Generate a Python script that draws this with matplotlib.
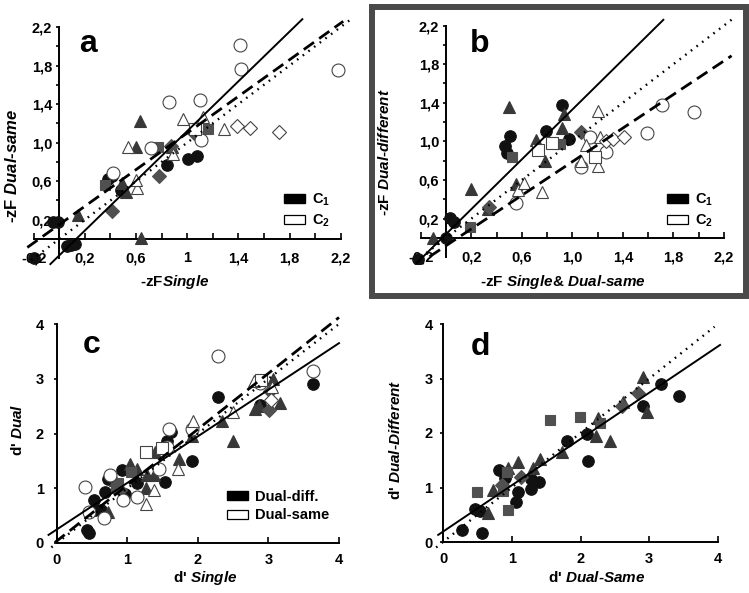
import numpy as np
import matplotlib
matplotlib.use("Agg")
import matplotlib.pyplot as plt
from matplotlib.patches import Patch, Rectangle

plt.rcParams['font.family'] = ['Liberation Sans', 'DejaVu Sans']
plt.rcParams['font.weight'] = 'bold'
plt.rcParams['mathtext.fontset'] = 'custom'
plt.rcParams['mathtext.rm'] = 'Liberation Sans:bold'
plt.rcParams['mathtext.it'] = 'Liberation Sans:italic:bold'
plt.rcParams['mathtext.bf'] = 'Liberation Sans:bold'
plt.rcParams['mathtext.default'] = 'rm'

W, H = 749, 593

# ---- panel a : -zF single vs dual-same ----
a_circ_fill_x = [-0.2, -0.05, -0.01, 0.06, 0.09, 0.12, 0.38, 0.41, 0.48, 0.84, 1.01, 1.08]
a_circ_fill_y = [-0.2, 0.18, 0.18, -0.07, -0.06, -0.05, 0.62, 0.65, 0.51, 0.77, 0.83, 0.86]
a_tri_fill_x = [0.15, 0.49, 0.52, 0.60, 0.63, 0.64, 0.88]
a_tri_fill_y = [0.25, 0.58, 0.49, 0.95, 1.22, 0.01, 0.95]
a_sq_fill_x = [0.36, 0.77, 1.16]
a_sq_fill_y = [0.56, 0.95, 1.14]
a_dia_fill_x = [0.41, 0.78, 1.05, 0.87]
a_dia_fill_y = [0.29, 0.65, 1.10, 0.96]
a_circ_open_x = [0.42, 0.72, 0.86, 1.10, 1.11, 1.41, 1.42, 2.18]
a_circ_open_y = [0.68, 0.94, 1.42, 1.44, 1.03, 2.01, 1.76, 1.75]
a_tri_open_x = [0.54, 0.61, 0.60, 0.89, 0.97, 1.12, 1.29]
a_tri_open_y = [0.95, 0.53, 0.61, 0.88, 1.25, 1.27, 1.14]
a_sq_open_x = [1.06]
a_sq_open_y = [1.14]
a_dia_open_x = [1.39, 1.49, 1.72]
a_dia_open_y = [1.17, 1.15, 1.11]
# fitted lines: (slope, intercept, x from, x to)
a_solid = (1.29, -0.17, -0.07, 1.90)
a_dashed = (0.95, 0.15, -0.25, 2.22)
a_dotted = (1.0, 0.0, -0.22, 2.27)

# ---- panel b : -zF single & dual-same vs dual-different ----
b_circ_fill_x = [-0.22, 0.0, 0.03, 0.06, 0.47, 0.48, 0.51, 0.79, 0.92, 0.97]
b_circ_fill_y = [-0.22, 0.0, 0.21, 0.17, 0.95, 0.88, 1.06, 1.11, 1.38, 1.03]
b_tri_fill_x = [-0.10, 0.20, 0.33, 0.50, 0.55, 0.71, 0.78, 0.92, 0.93]
b_tri_fill_y = [0.0, 0.51, 0.30, 1.36, 0.56, 1.01, 0.80, 1.14, 1.28]
b_sq_fill_x = [0.19, 0.52, 0.90]
b_sq_fill_y = [0.11, 0.84, 0.97]
b_dia_fill_x = [0.34, 1.07]
b_dia_fill_y = [0.32, 1.10]
b_circ_open_x = [0.55, 1.07, 1.14, 1.27, 1.59, 1.71, 1.96]
b_circ_open_y = [0.36, 0.74, 1.05, 0.89, 1.09, 1.38, 1.30]
b_tri_open_x = [0.57, 0.62, 0.76, 1.07, 1.11, 1.20, 1.20, 1.22]
b_tri_open_y = [0.50, 0.57, 0.48, 0.80, 0.96, 1.32, 0.75, 1.05]
b_sq_open_x = [0.73, 0.84, 1.18]
b_sq_open_y = [0.91, 0.98, 0.84]
b_dia_open_x = [1.27, 1.32, 1.41]
b_dia_open_y = [1.00, 1.03, 1.05]
b_solid = (1.29, 0.04, -0.23, 1.72)
b_dashed = (0.87, -0.08, -0.13, 2.26)
b_dotted = (1.0, 0.0, -0.20, 2.27)

# ---- panel c : d' single vs dual ----
c_circ_fill_x = [0.42, 0.46, 0.52, 0.54, 0.63, 0.68, 0.73, 0.92, 0.96, 1.13, 1.53, 1.56, 1.61, 1.92, 2.29, 2.88, 3.63]
c_circ_fill_y = [0.24, 0.18, 0.78, 0.60, 0.60, 0.94, 1.16, 1.34, 0.89, 1.10, 1.12, 1.86, 2.02, 1.50, 2.67, 2.52, 2.90]
c_tri_fill_x = [0.73, 0.82, 1.03, 1.13, 1.26, 1.28, 1.37, 1.39, 1.73, 1.92, 2.34, 2.50, 2.81, 2.87, 3.07, 3.16]
c_tri_fill_y = [0.57, 1.15, 1.45, 1.36, 1.00, 1.24, 1.24, 1.67, 1.53, 1.95, 2.23, 1.86, 2.45, 2.50, 3.00, 2.55]
c_sq_fill_x = [0.84, 0.87, 1.05]
c_sq_fill_y = [1.00, 1.10, 1.30]
c_dia_fill_x = [0.90, 3.01, 3.02]
c_dia_fill_y = [0.97, 2.43, 2.77]
c_circ_open_x = [0.40, 0.46, 0.66, 0.75, 0.94, 1.13, 1.44, 1.56, 1.59, 1.92, 2.29, 2.88, 3.63]
c_circ_open_y = [1.03, 0.57, 0.45, 1.25, 0.78, 0.84, 1.36, 1.76, 2.09, 2.09, 3.42, 2.92, 3.14]
c_tri_open_x = [1.26, 1.37, 1.72, 1.93, 2.50, 2.80, 3.05]
c_tri_open_y = [0.72, 0.97, 1.36, 2.22, 2.40, 2.95, 2.85]
c_sq_open_x = [1.26, 1.49, 2.90]
c_sq_open_y = [1.66, 1.73, 2.97]
c_dia_open_x = [3.03]
c_dia_open_y = [2.62]
c_solid = (0.85, 0.25, -0.12, 4.0)
c_dashed = (1.02, 0.04, -0.03, 4.0)
c_dotted = (1.0, 0.0, -0.08, 4.0)

# ---- panel d : d' dual-same vs dual-different ----
d_circ_fill_x = [0.28, 0.47, 0.54, 0.56, 0.81, 0.90, 1.06, 1.09, 1.28, 1.28, 1.39, 1.80, 2.09, 2.11, 2.91, 3.17, 3.43]
d_circ_fill_y = [0.22, 0.60, 0.56, 0.17, 1.32, 1.17, 0.74, 0.92, 0.97, 1.16, 1.10, 1.85, 1.99, 1.49, 2.50, 2.89, 2.67]
d_tri_fill_x = [0.65, 0.73, 0.95, 1.09, 1.31, 1.41, 1.73, 2.22, 2.25, 2.43, 2.62, 2.91, 2.96]
d_tri_fill_y = [0.53, 0.95, 1.35, 1.47, 1.35, 1.53, 1.65, 1.95, 2.27, 1.85, 2.56, 3.03, 2.39]
d_sq_fill_x = [0.49, 0.87, 0.93, 0.94, 1.56, 1.99, 2.29]
d_sq_fill_y = [0.91, 0.94, 1.28, 0.58, 2.24, 2.29, 2.18]
d_dia_fill_x = [0.86, 1.13, 2.60, 2.84]
d_dia_fill_y = [1.05, 1.20, 2.50, 2.73]
d_solid = (0.85, 0.19, -0.07, 4.03)
d_dotted = (1.0, 0.0, -0.10, 3.95)

zf_ticks = [-0.2, 0.2, 0.6, 1.0, 1.4, 1.8, 2.2]
zf_minor = [0.0, 0.4, 0.8, 1.2, 1.6, 2.0]
a_xticklabels = ["-0,2", "0,2", "0,6", "1", "1,4", "1,8", "2,2"]
b_xticklabels = ["-0,2", "0,2", "0,6", "1,0", "1,4", "1,8", "2,2"]
zf_yticks = [0.2, 0.6, 1.0, 1.4, 1.8, 2.2]
zf_yticklabels = ["0,2", "0,6", "1,0", "1,4", "1,8", "2,2"]
d_ticks = [0, 1, 2, 3, 4]
d_ticklabels = ["0", "1", "2", "3", "4"]

FILL_DARK = '#383838'
FILL_MID = '#505050'
OPEN_EDGE = '#444444'


def fx(px):
    return px / W


def fy(py):
    return 1 - py / H


def place(xcal, ycal, xlim, ylim):
    # xcal/ycal: ((value0, pixel0), (value1, pixel1))
    (xv0, xp0), (xv1, xp1) = xcal
    (yv0, yp0), (yv1, yp1) = ycal
    sx = (xp1 - xp0) / (xv1 - xv0)
    sy = (yp1 - yp0) / (yv1 - yv0)
    left = xp0 + (xlim[0] - xv0) * sx
    right = xp0 + (xlim[1] - xv0) * sx
    bot = yp0 + (ylim[0] - yv0) * sy
    top = yp0 + (ylim[1] - yv0) * sy
    return [left / W, 1 - bot / H, (right - left) / W, (bot - top) / H]


def scatter_group(ax, x, y, marker, face, edge, ms, mew=0.8):
    ax.plot(x, y, linestyle='none', marker=marker, ms=ms, mfc=face, mec=edge, mew=mew, zorder=3)


def fit_line(ax, spec, style):
    k, b, x0, x1 = spec
    xs = np.array([x0, x1])
    if style == 'solid':
        ax.plot(xs, k * xs + b, color='black', lw=1.4, zorder=4, clip_on=False)
    elif style == 'dashed':
        ax.plot(xs, k * xs + b, color='black', lw=2.0, dashes=(4.5, 2.3), zorder=4, clip_on=False)
    else:
        ax.plot(xs, k * xs + b, color='black', lw=1.7, dashes=(0.7, 2.3), zorder=4, clip_on=False)


def style_axes(ax, lo, hi, xpad, ypad):
    for s in ['top', 'right']:
        ax.spines[s].set_visible(False)
    ax.spines['left'].set_position(('data', 0))
    ax.spines['bottom'].set_position(('data', 0))
    ax.spines['left'].set_bounds(lo, hi)
    ax.spines['bottom'].set_bounds(lo, hi)
    ax.spines['left'].set_linewidth(1.4)
    ax.spines['bottom'].set_linewidth(1.4)
    ax.tick_params(axis='x', which='both', direction='in', length=4, width=1.2, pad=xpad, labelsize=10.5)
    ax.tick_params(axis='y', which='both', direction='out', length=2.5, width=1.2, pad=ypad, labelsize=10.5)
    for t in ax.get_xticklabels() + ax.get_yticklabels():
        t.set_fontweight('bold')


def all_groups(ax, pre):
    g = globals()
    scatter_group(ax, g[pre + '_circ_fill_x'], g[pre + '_circ_fill_y'], 'o', '#111111', '#111111', 8.3)
    scatter_group(ax, g[pre + '_tri_fill_x'], g[pre + '_tri_fill_y'], '^', FILL_DARK, FILL_DARK, 8.8)
    scatter_group(ax, g[pre + '_sq_fill_x'], g[pre + '_sq_fill_y'], 's', FILL_MID, FILL_MID, 7.8)
    scatter_group(ax, g[pre + '_dia_fill_x'], g[pre + '_dia_fill_y'], 'D', FILL_MID, FILL_MID, 6.8)
    if pre + '_circ_open_x' in g:
        scatter_group(ax, g[pre + '_circ_open_x'], g[pre + '_circ_open_y'], 'o', 'white', OPEN_EDGE, 9.3)
        scatter_group(ax, g[pre + '_tri_open_x'], g[pre + '_tri_open_y'], '^', 'white', OPEN_EDGE, 9.3)
        scatter_group(ax, g[pre + '_sq_open_x'], g[pre + '_sq_open_y'], 's', 'white', OPEN_EDGE, 8.3)
        scatter_group(ax, g[pre + '_dia_open_x'], g[pre + '_dia_open_y'], 'D', 'white', OPEN_EDGE, 7)


def legend(ax, labels, px, py):
    handles = [Patch(facecolor='black', edgecolor='black'),
               Patch(facecolor='white', edgecolor='black', linewidth=0.9)]
    ax.legend(handles, labels, loc='upper left', bbox_to_anchor=(fx(px), fy(py)),
              bbox_transform=ax.figure.transFigure, frameon=False, borderpad=0,
              borderaxespad=0, handlelength=1.45, handleheight=0.6, handletextpad=0.45,
              labelspacing=0.3, prop=dict(weight='bold', size=10.5))


fig = plt.figure(figsize=(W / 100, H / 100), dpi=100)

# panel a
zlim = (-0.27, 2.27)
ax_a = fig.add_axes(place(((0, 59.3), (2.2, 340.7)), ((0, 239), (2.2, 27)), zlim, zlim))
ax_a.set_xlim(zlim)
ax_a.set_ylim(zlim)
ax_a.set_xticks(zf_ticks)
ax_a.set_xticklabels(a_xticklabels)
ax_a.set_xticks(zf_minor, minor=True)
ax_a.set_yticks(zf_yticks)
ax_a.set_yticklabels(zf_yticklabels)
ax_a.set_yticks([0.0, 0.4, 0.8, 1.2, 1.6, 2.0], minor=True)
style_axes(ax_a, -0.2, 2.2, 9, 2.5)
all_groups(ax_a, 'a')
fit_line(ax_a, a_solid, 'solid')
fit_line(ax_a, a_dashed, 'dashed')
fit_line(ax_a, a_dotted, 'dotted')
legend(ax_a, ["C$_1$", "C$_2$"], 284, 192)

# panel b
ax_b = fig.add_axes(place(((0, 446), (2.2, 724)), ((0, 238), (2.2, 25.5)), zlim, zlim))
ax_b.set_xlim(zlim)
ax_b.set_ylim(zlim)
ax_b.set_xticks(zf_ticks)
ax_b.set_xticklabels(b_xticklabels)
ax_b.set_xticks(zf_minor, minor=True)
ax_b.set_yticks(zf_yticks)
ax_b.set_yticklabels(zf_yticklabels)
ax_b.set_yticks([0.0, 0.4, 0.8, 1.2, 1.6, 2.0], minor=True)
style_axes(ax_b, -0.2, 2.2, 9, 2.5)
all_groups(ax_b, 'b')
fit_line(ax_b, b_solid, 'solid')
fit_line(ax_b, b_dashed, 'dashed')
fit_line(ax_b, b_dotted, 'dotted')
legend(ax_b, ["C$_1$", "C$_2$"], 667, 192)

# panel c
dlim_x = (-0.15, 4.1)
dlim_y = (-0.15, 4.15)
ax_c = fig.add_axes(place(((0, 57), (4, 339)), ((0, 543), (4, 324)), dlim_x, dlim_y))
ax_c.set_xlim(dlim_x)
ax_c.set_ylim(dlim_y)
ax_c.set_xticks(d_ticks)
ax_c.set_xticklabels(d_ticklabels)
ax_c.set_yticks(d_ticks)
ax_c.set_yticklabels(d_ticklabels)
style_axes(ax_c, 0, 4, 7, 7)
all_groups(ax_c, 'c')
fit_line(ax_c, c_solid, 'solid')
fit_line(ax_c, c_dashed, 'dashed')
fit_line(ax_c, c_dotted, 'dotted')
legend(ax_c, ["Dual-diff.", "Dual-same"], 227, 490)

# panel d
ax_d = fig.add_axes(place(((0, 443), (4, 718)), ((0, 542), (4, 324)), dlim_x, dlim_y))
ax_d.set_xlim(dlim_x)
ax_d.set_ylim(dlim_y)
ax_d.set_xticks(d_ticks)
ax_d.set_xticklabels(d_ticklabels)
ax_d.set_yticks(d_ticks)
ax_d.set_yticklabels(d_ticklabels)
style_axes(ax_d, 0, 4, 7, 5)
all_groups(ax_d, 'd')
fit_line(ax_d, d_solid, 'solid')
fit_line(ax_d, d_dotted, 'dotted')

# axis titles
lab = dict(fontsize=11, fontweight='bold', ha='center', va='center')
fig.text(fx(12), fy(166), r"-zF $\mathit{Dual}$-$\mathit{same}$", rotation=90, fontsize=12,
         fontweight='bold', ha='center', va='center')
fig.text(fx(175), fy(282), r"-zF$\mathit{Single}$", **lab)
fig.text(fx(385), fy(152), r"-zF $\mathit{Dual}$-$\mathit{different}$", rotation=90, **lab)
fig.text(fx(563), fy(282), r"-zF $\mathit{Single}$& $\mathit{Dual}$-$\mathit{same}$", **lab)
fig.text(fx(17), fy(430), r"d' $\mathit{Dual}$", rotation=90, **lab)
fig.text(fx(205), fy(578), r"d' $\mathit{Single}$", **lab)
fig.text(fx(395), fy(440), r"d' $\mathit{Dual}$-$\mathit{Different}$", rotation=90, **lab)
fig.text(fx(597), fy(578), r"d' $\mathit{Dual}$-$\mathit{Same}$", **lab)

# panel letters
let = dict(fontsize=23, fontweight='bold', ha='center', va='baseline')
fig.text(fx(88), fy(52), "a", **let)
fig.text(fx(480), fy(52), "b", **let)
fig.text(fx(92), fy(353), "c", **let)
fig.text(fx(480), fy(355), "d", **let)

# frame around panel b
fig.add_artist(Rectangle((fx(371.5), fy(295.5)), fx(746) - fx(371.5), fy(7) - fy(295.5),
                         transform=fig.transFigure, fill=False, ec='#4a4a4a', lw=4.3))

fig.savefig("out.png", dpi=100)
